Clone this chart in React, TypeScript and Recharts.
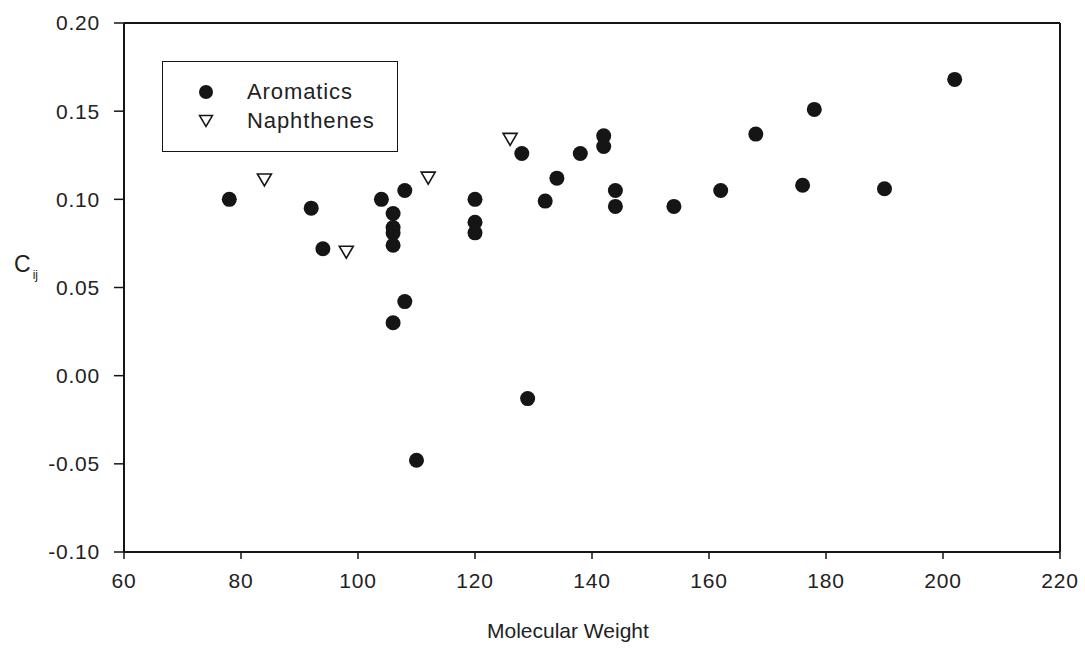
import React from 'react';
import { ScatterChart, Scatter, XAxis, YAxis, ReferenceLine } from 'recharts';

// molecular weight / C_ij
const aromaticsMW = [78, 92, 94, 104, 106, 106, 106, 106, 106, 108, 108, 110, 120, 120, 120, 128, 129, 132, 134, 138, 142, 142, 144, 144, 154, 162, 168, 176, 178, 190, 202];
const aromaticsC = [0.1, 0.095, 0.072, 0.1, 0.092, 0.084, 0.081, 0.074, 0.03, 0.105, 0.042, -0.048, 0.1, 0.087, 0.081, 0.126, -0.013, 0.099, 0.112, 0.126, 0.136, 0.13, 0.105, 0.096, 0.096, 0.105, 0.137, 0.108, 0.151, 0.106, 0.168];

const naphthenesMW = [84, 98, 112, 126];
const naphthenesC = [0.111, 0.07, 0.112, 0.134];

const xTicks = [60, 80, 100, 120, 140, 160, 180, 200, 220];
const yTicks = [-0.1, -0.05, 0, 0.05, 0.1, 0.15, 0.2];

const aromatics = aromaticsMW.map((mw, i) => ({ mw, c: aromaticsC[i] }));
const naphthenes = naphthenesMW.map((mw, i) => ({ mw, c: naphthenesC[i] }));

const FONT = '"Liberation Sans", Arial, sans-serif';
const INK = '#151515';

const Dot = (props: any) => <circle cx={props.cx} cy={props.cy} r={7.5} fill={INK} />;

const Tri = (props: any) => {
  const { cx, cy } = props;
  return (
    <path
      d={`M${cx - 7},${cy - 6} L${cx + 7},${cy - 6} L${cx},${cy + 6} Z`}
      fill="#fff"
      stroke={INK}
      strokeWidth={1.6}
    />
  );
};

const tickStyle = { fill: '#222', fontSize: 21, fontFamily: FONT, letterSpacing: 0.8 };

export default function App() {
  return (
    <div style={{ position: 'absolute', left: 0, top: 0, width: 1085, height: 653, background: '#fff', fontFamily: FONT }}>
      <ScatterChart width={1085} height={653} margin={{ top: 23, right: 25, left: 64, bottom: 41 }}>
        <XAxis
          type="number"
          dataKey="mw"
          domain={[60, 220]}
          ticks={xTicks}
          height={60}
          tickSize={7}
          tickMargin={14}
          tick={tickStyle}
          axisLine={{ stroke: INK, strokeWidth: 2 }}
          tickLine={{ stroke: INK, strokeWidth: 1.5 }}
        />
        <YAxis
          type="number"
          dataKey="c"
          domain={[-0.1, 0.2]}
          ticks={yTicks}
          width={60}
          tickSize={10}
          tickMargin={14}
          tick={tickStyle}
          tickFormatter={(v: number) => v.toFixed(2)}
          axisLine={{ stroke: INK, strokeWidth: 2 }}
          tickLine={{ stroke: INK, strokeWidth: 1.5 }}
        />
        <ReferenceLine y={0.2} stroke={INK} strokeWidth={2} />
        <ReferenceLine x={220} stroke={INK} strokeWidth={2} />
        <Scatter name="Aromatics" data={aromatics} shape={Dot} isAnimationActive={false} />
        <Scatter name="Naphthenes" data={naphthenes} shape={Tri} isAnimationActive={false} />
      </ScatterChart>

      {/* legend box */}
      <div
        style={{
          position: 'absolute',
          left: 162,
          top: 61,
          width: 234,
          height: 89,
          border: `1.5px solid ${INK}`,
          fontSize: 22,
          letterSpacing: 0.9,
          color: '#222',
        }}
      >
        <div style={{ position: 'absolute', left: 35, top: 19, display: 'flex', alignItems: 'center' }}>
          <svg width={16} height={16}>
            <circle cx={8} cy={8} r={7} fill={INK} />
          </svg>
          <span style={{ marginLeft: 33, lineHeight: '22px' }}>Aromatics</span>
        </div>
        <div style={{ position: 'absolute', left: 35, top: 48, display: 'flex', alignItems: 'center' }}>
          <svg width={16} height={16}>
            <path d="M1.5,2.5 L14.5,2.5 L8,13.5 Z" fill="#fff" stroke={INK} strokeWidth={1.5} />
          </svg>
          <span style={{ marginLeft: 33, lineHeight: '22px' }}>Naphthenes</span>
        </div>
      </div>

      {/* axis titles */}
      <div style={{ position: 'absolute', left: 14, top: 251, fontSize: 23, color: '#222', whiteSpace: 'nowrap' }}>
        C<span style={{ fontSize: 12, position: 'relative', top: 7, left: 2, color: '#222' }}>ij</span>
      </div>
      <div style={{ position: 'absolute', left: 487, top: 619, fontSize: 21, color: '#222', whiteSpace: 'nowrap' }}>
        Molecular Weight
      </div>
    </div>
  );
}
